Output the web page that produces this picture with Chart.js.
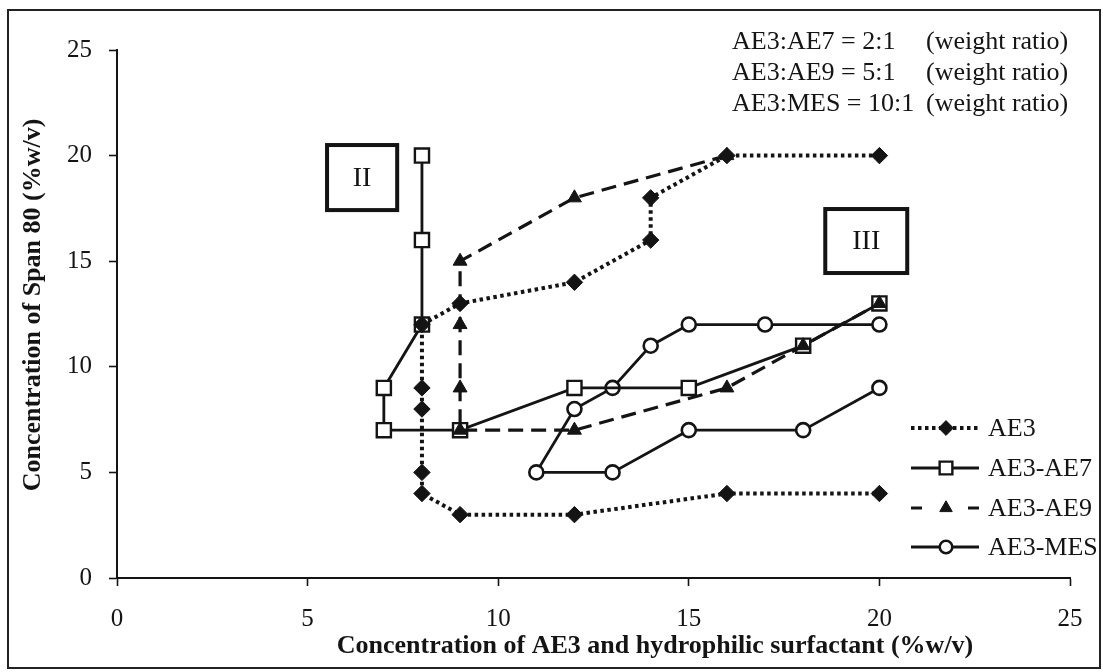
<!DOCTYPE html>
<html>
<head>
<meta charset="utf-8">
<script src="https://cdn.jsdelivr.net/npm/chart.js@4.4.1/dist/chart.umd.min.js"></script>
<style>
  html, body { margin: 0; padding: 0; background: #fff; }
  #wrap { width: 1103px; height: 672px; position: relative; }
</style>
</head>
<body>
<div id="wrap"><canvas id="c" width="1103" height="672"></canvas></div>
<script>
// Phase-boundary data: surfactant concentration (x) vs Span 80 concentration (y), %w/v
const ae3X = [20, 16, 14, 14, 12, 9, 8, 8, 8, 8, 8, 9, 12, 16, 20];
const ae3Y = [20, 20, 18, 16, 14, 13, 12, 9, 8, 5, 4, 3, 3, 4, 4];

const ae7X = [8, 8, 8, 7, 7, 9, 12, 15, 18, 20];
const ae7Y = [20, 16, 12, 9, 7, 7, 9, 9, 11, 13];

const ae9X = [16, 12, 9, 9, 9, 9, 12, 16, 18, 20];
const ae9Y = [20, 18, 15, 12, 9, 7, 7, 9, 11, 13];

const mesX = [20, 17, 15, 14, 13, 12, 11, 13, 15, 18, 20];
const mesY = [12, 12, 12, 11, 9, 8, 5, 5, 7, 7, 9];

const seriesNames = ['AE3', 'AE3-AE7', 'AE3-AE9', 'AE3-MES'];
const xTickValues = [0, 5, 10, 15, 20, 25];
const yTickValues = [0, 5, 10, 15, 20, 25];

const xTitle = 'Concentration of AE3 and hydrophilic surfactant (%w/v)';
const yTitle = 'Concentration of Span 80 (%w/v)';
const ratioLeft = ['AE3:AE7 = 2:1', 'AE3:AE9 = 5:1', 'AE3:MES = 10:1'];
const ratioRight = ['(weight ratio)', '(weight ratio)', '(weight ratio)'];

// Phase region labels, positioned in data units: [label, xMin, xMax, yMin, yMax]
const regionLabels = [
  ['II', 5.51, 7.35, 17.42, 20.5],
  ['III', 18.58, 20.73, 14.44, 17.47]
];

const SERIF = '"Liberation Serif", "Times New Roman", serif';
const INK = '#141414';

function pts(xs, ys) { return xs.map((x, i) => ({ x: x, y: ys[i] })); }

const datasets = [
  {
    label: seriesNames[0], data: pts(ae3X, ae3Y), showLine: true, order: 0,
    borderColor: INK, borderWidth: 4, borderDash: [3.5, 3.5],
    legendDash: [3.5, 3.5],
    pointStyle: 'rectRot', pointRadius: 8.2, pointBackgroundColor: INK,
    pointBorderColor: INK, pointBorderWidth: 1
  },
  {
    label: seriesNames[1], data: pts(ae7X, ae7Y), showLine: true, order: 2,
    borderColor: INK, borderWidth: 2.8,
    legendDash: [],
    pointStyle: 'rect', pointRadius: 10, pointBackgroundColor: '#fff',
    pointBorderColor: INK, pointBorderWidth: 2.4
  },
  {
    label: seriesNames[2], data: pts(ae9X, ae9Y), showLine: true, order: 1,
    borderColor: INK, borderWidth: 3.2, borderDash: [15, 8],
    legendDash: [11, 46],
    pointStyle: 'triangle', pointRadius: 8, pointBackgroundColor: INK,
    pointBorderColor: INK, pointBorderWidth: 1
  },
  {
    label: seriesNames[3], data: pts(mesX, mesY), showLine: true, order: 3,
    borderColor: INK, borderWidth: 2.8,
    legendDash: [],
    pointStyle: 'circle', pointRadius: 7, pointBackgroundColor: '#fff',
    pointBorderColor: INK, pointBorderWidth: 2.6
  }
];

// Background, outer frame, titles, region boxes, ratio note and legend
const decor = {
  id: 'decor',
  beforeDraw(chart) {
    const ctx = chart.ctx;
    ctx.save();
    ctx.fillStyle = '#fff';
    ctx.fillRect(0, 0, chart.width, chart.height);
    ctx.restore();
  },
  afterDraw(chart) {
    const ctx = chart.ctx;
    const xs = chart.scales.x, ys = chart.scales.y;
    ctx.save();

    // outer frame
    ctx.strokeStyle = '#222';
    ctx.lineWidth = 2;
    ctx.strokeRect(8, 10, 1092, 658);

    ctx.fillStyle = INK;

    // axis titles
    ctx.font = 'bold 26px ' + SERIF;
    ctx.textAlign = 'center';
    ctx.textBaseline = 'middle';
    ctx.fillText(xTitle, 655, 646);
    ctx.save();
    ctx.translate(33, 305);
    ctx.rotate(-Math.PI / 2);
    ctx.fillText(yTitle, 0, 0);
    ctx.restore();

    // region boxes
    ctx.font = '28px ' + SERIF;
    regionLabels.forEach(([txt, x0, x1, y0, y1]) => {
      const l = xs.getPixelForValue(x0), r = xs.getPixelForValue(x1);
      const t = ys.getPixelForValue(y1), b = ys.getPixelForValue(y0);
      ctx.lineWidth = 4;
      ctx.strokeStyle = INK;
      ctx.strokeRect(l, t, r - l, b - t);
      ctx.fillText(txt, (l + r) / 2, (t + b) / 2 + 1);
    });

    // ratio note
    ctx.font = '26px ' + SERIF;
    ctx.textAlign = 'left';
    ctx.textBaseline = 'alphabetic';
    ratioLeft.forEach((s, i) => {
      const y = 49 + i * 31;
      ctx.fillText(s, 732, y);
      ctx.fillText(ratioRight[i], 926, y);
    });

    // legend
    const rowsY = [428, 468, 508, 547];
    chart.data.datasets.forEach((ds, i) => {
      const y = rowsY[i];
      ctx.save();
      ctx.strokeStyle = ds.borderColor;
      ctx.lineWidth = ds.borderWidth;
      ctx.setLineDash(ds.legendDash);
      ctx.beginPath();
      ctx.moveTo(911, y);
      ctx.lineTo(979, y);
      ctx.stroke();
      ctx.setLineDash([]);
      ctx.fillStyle = ds.pointBackgroundColor;
      ctx.strokeStyle = ds.pointBorderColor;
      ctx.lineWidth = ds.pointBorderWidth;
      Chart.helpers.drawPoint(ctx, {
        pointStyle: ds.pointStyle,
        radius: ds.pointRadius * 0.9,
        rotation: 0,
        borderWidth: ds.pointBorderWidth
      }, 946, y);
      ctx.restore();
      ctx.fillStyle = INK;
      ctx.font = '26px ' + SERIF;
      ctx.textAlign = 'left';
      ctx.textBaseline = 'middle';
      ctx.fillText(ds.label, 988, y + 1);
    });

    ctx.restore();
  }
};

const tickFont = { family: SERIF, size: 25 };

new Chart(document.getElementById('c'), {
  type: 'scatter',
  data: { datasets: datasets },
  options: {
    responsive: false,
    animation: false,
    layout: { padding: { left: 0, right: 33, top: 50, bottom: 0 } },
    plugins: { legend: { display: false }, tooltip: { enabled: false } },
    scales: {
      x: {
        type: 'linear', min: 0, max: 25,
        afterBuildTicks(s) { s.ticks = xTickValues.map(v => ({ value: v })); },
        afterFit(s) { s.height = 94; },
        ticks: { font: tickFont, color: INK, padding: 18, maxRotation: 0 },
        grid: { drawOnChartArea: false, drawTicks: true, tickLength: 8, tickColor: INK, tickWidth: 1.6 },
        border: { display: true, color: INK, width: 2 }
      },
      y: {
        type: 'linear', min: 0, max: 25,
        afterBuildTicks(s) { s.ticks = yTickValues.map(v => ({ value: v })); },
        afterFit(s) { s.width = 117; },
        ticks: { font: tickFont, color: INK, padding: 17 },
        grid: { drawOnChartArea: false, drawTicks: true, tickLength: 8, tickColor: INK, tickWidth: 1.6 },
        border: { display: true, color: INK, width: 2 }
      }
    }
  },
  plugins: [decor]
});
</script>
</body>
</html>
